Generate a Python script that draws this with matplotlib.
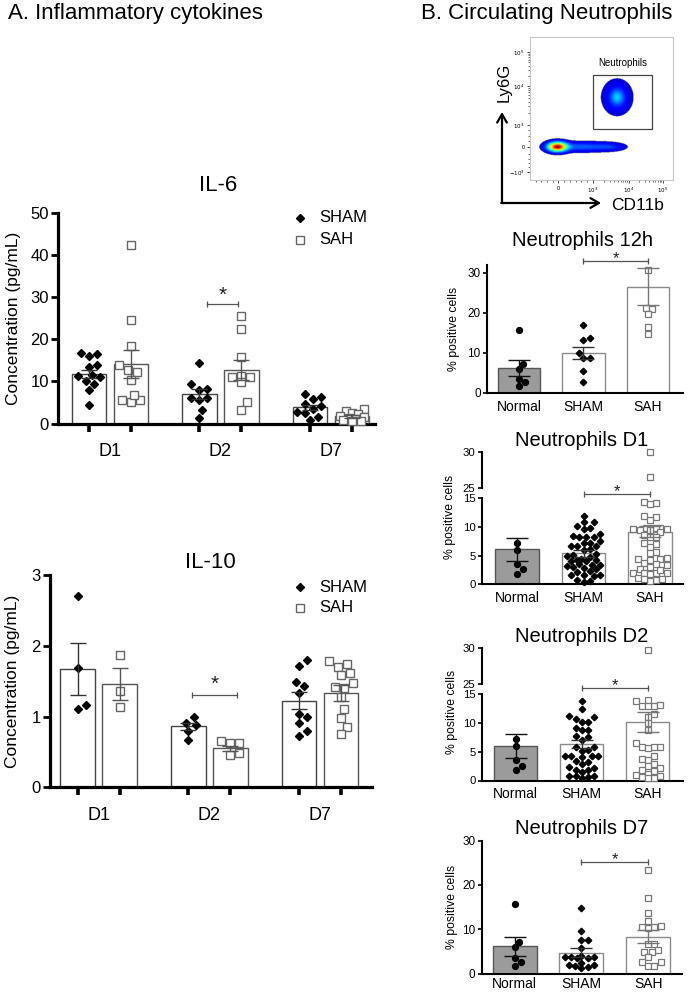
import numpy as np
import matplotlib
matplotlib.use("Agg")
import matplotlib.pyplot as plt
from matplotlib.patches import Rectangle
from matplotlib.lines import Line2D

plt.rcParams['font.family'] = ['Liberation Sans', 'DejaVu Sans']

W, H = 693, 992

# ---------------- data: inflammatory cytokines ----------------
days = ['D1', 'D2', 'D7']

il6_sham_d1 = [16.7, 16.0, 16.5, 13.5, 13.8, 11.5, 11.2, 11.0, 9.5, 10.2, 8.0, 4.5]
il6_sah_d1 = [42.4, 24.6, 18.3, 13.8, 12.6, 12.3, 10.3, 5.6, 5.2, 5.6, 6.8]
il6_sham_d2 = [14.3, 9.3, 8.0, 8.1, 6.0, 5.6, 6.0, 3.2, 1.4]
il6_sah_d2 = [25.6, 22.4, 15.9, 11.3, 11.0, 9.8, 11.1, 5.1, 3.2]
il6_sham_d7 = [7.0, 6.2, 5.8, 4.6, 4.2, 3.5, 2.5, 2.8, 1.6, 0.8]
il6_sah_d7 = [3.5, 3.0, 2.6, 2.2, 1.8, 1.6, 1.3, 1.0, 0.8, 0.5, 0.6]
il6_mean_sham = [11.8, 7.0, 3.9]
il6_sem_sham = [0.9, 1.1, 0.6]
il6_mean_sah = [14.2, 12.7, 1.7]
il6_sem_sah = [3.3, 2.4, 0.35]

il10_sham_d1 = [2.71, 1.69, 1.11, 1.16]
il10_sah_d1 = [1.87, 1.36, 1.14]
il10_sham_d2 = [0.99, 0.88, 0.91, 0.80, 0.67]
il10_sah_d2 = [0.62, 0.62, 0.65, 0.48, 0.45]
il10_sham_d7 = [1.80, 1.72, 1.49, 1.43, 1.33, 0.99, 1.03, 0.91, 0.80, 0.72]
il10_sah_d7 = [1.78, 1.74, 1.70, 1.62, 1.58, 1.48, 1.42, 1.40, 1.28, 1.10, 0.98, 0.85, 0.75]
il10_mean_sham = [1.67, 0.86, 1.22]
il10_sem_sham = [0.37, 0.05, 0.12]
il10_mean_sah = [1.46, 0.55, 1.33]
il10_sem_sah = [0.22, 0.04, 0.11]

# ---------------- data: circulating neutrophils ----------------
groups = ['Normal', 'SHAM', 'SAH']
normal_vals = [15.6, 7.2, 6.0, 3.5, 2.6, 1.8]

h12_sham = [16.9, 13.8, 13.3, 10.0, 8.6, 8.6, 5.4, 2.8]
h12_sah = [30.8, 21.1, 20.9, 19.6, 16.5, 14.7]
h12_means = [6.1, 10.0, 26.5]
h12_sems = [2.0, 1.5, 4.6]

d1_sham = [12.0, 10.8, 10.8, 10.2, 9.8, 9.6, 8.8, 8.4, 8.3, 8.2, 8.2, 7.5, 7.2, 7.2,
           6.7, 6.7, 6.7, 6.1, 6.0, 5.3, 5.2, 5.0, 4.8, 4.4, 4.3, 4.2, 4.1, 4.1, 3.5,
           3.4, 3.4, 3.2, 3.1, 2.8, 2.6, 2.4, 2.2, 1.7, 1.6, 1.5, 1.6, 0.8, 0.5, 0.6]
d1_sah = [30.0, 26.5, 14.3, 14.2, 14.0, 12.0, 11.7, 11.3, 9.9, 9.9, 9.8, 9.8, 9.6, 9.6,
          9.5, 9.5, 9.2, 8.6, 8.3, 8.2, 7.2, 7.0, 6.6, 5.7, 5.4, 4.6, 4.4, 4.4, 4.2,
          3.7, 3.5, 3.3, 2.7, 2.0, 1.9, 1.9, 1.9, 1.8, 3.0, 2.5, 1.1, 0.8, 0.6, 0.9, 1.0]
d1_means = [6.1, 5.4, 9.2]
d1_sems = [2.05, 0.6, 1.0]

d2_sham = [13.8, 12.4, 11.2, 11.0, 10.6, 10.2, 10.2, 9.1, 8.8, 8.7, 7.8, 7.6, 7.0, 5.8,
           5.8, 5.3, 5.2, 4.2, 4.2, 4.3, 4.1, 4.2, 3.3, 3.2, 2.9, 2.2, 2.3, 1.5, 1.9,
           1.9, 0.8, 0.7, 0.6, 0.7, 0.5]
d2_sah = [29.7, 14.0, 13.8, 13.0, 13.0, 12.9, 13.1, 11.6, 11.0, 9.9, 8.8, 6.5, 5.8, 5.8,
          5.8, 5.7, 4.3, 3.8, 3.6, 2.8, 2.5, 2.1, 1.8, 1.6, 1.2, 0.9, 0.8, 0.6, 0.5, 0.4]
d2_means = [6.0, 6.3, 10.1]
d2_sems = [2.05, 0.7, 1.7]

d7_sham = [14.9, 9.7, 7.6, 7.6, 5.7, 3.9, 3.8, 3.7, 3.6, 3.8, 3.4, 2.4, 1.9, 1.5, 1.3, 1.6, 1.9]
d7_sah = [23.4, 17.0, 13.7, 11.8, 10.7, 10.4, 10.3, 10.6, 6.7, 6.6, 5.3, 4.9, 4.9, 3.8,
          2.7, 2.6, 1.6, 1.7]
d7_means = [6.1, 4.7, 8.3]
d7_sems = [2.1, 0.95, 1.5]

# flow cytometry populations (axis units 0-100)
flow_pop_x = [19, 36, 56, 61, 61]
flow_pop_y = [23, 23, 23, 57.5, 57.5]
flow_pop_sx = [4.5, 12, 7, 6.5, 3.0]
flow_pop_sy = [2.2, 2.2, 1.9, 7.5, 3.5]
flow_pop_peak = [1.0, 0.2, 0.12, 0.14, 0.2]
flow_xtick_pos = [19.6, 44, 69, 93]
flow_xtick_lab = ['0', r'$10^3$', r'$10^4$', r'$10^5$']
flow_ytick_pos = [5.6, 23, 38.5, 65.7, 89.5]
flow_ytick_lab = [r'$-10^3$', '0', r'$10^3$', r'$10^4$', r'$10^5$']

# ---------------- helpers ----------------
fig = plt.figure(figsize=(W / 100, H / 100), dpi=100)


def add_ax(l, t, r, b):
    a = fig.add_axes([l / W, 1 - b / H, (r - l) / W, (b - t) / H])
    a.patch.set_visible(False)
    return a


def ftext(x, y, s, **kw):
    return fig.text(x / W, 1 - y / H, s, **kw)


def fmark(x, y, **kw):
    fig.add_artist(Line2D([x / W], [1 - y / H], transform=fig.transFigure, ls='none', **kw))


def swarm(values, ax, d, halfwidth):
    vals = np.asarray(values, float)
    p0 = ax.transData.transform((0, 0))
    p1 = ax.transData.transform((1, 0))
    xscale = p1[0] - p0[0]
    lim = halfwidth * xscale
    ys = np.array([ax.transData.transform((0, v))[1] for v in vals])
    order = np.argsort(ys)
    placed = []
    offs = np.zeros(len(vals))
    step = d / 3.0
    cands = [0.0]
    k = 1
    while k * step <= lim:
        cands += [k * step, -k * step]
        k += 1
    for i in order:
        y = ys[i]
        best, bestd = None, -1
        for c in cands:
            md = min([np.hypot(c - px, y - py) for px, py in placed] + [1e9])
            if md >= d:
                best = c
                break
            if md > bestd + 0.5:
                best, bestd = c, md
        placed.append((best, y))
        offs[i] = best / xscale
    return offs


def sig(ax, x1, x2, y, dy, size, color='#555'):
    ax.plot([x1, x2], [y, y], color=color, lw=0.9, clip_on=False, zorder=6)
    ax.plot([x1, x2], [y, y], ls='none', marker='|', ms=4, mew=0.9, color=color,
            clip_on=False, zorder=6)
    ax.annotate('*', xy=((x1 + x2) / 2, y), xytext=(0, dy), textcoords='offset points',
                ha='center', va='baseline', fontsize=size, color='#222',
                annotation_clip=False)


# ---------------- panel A: cytokines ----------------
def cyto_panel(ax, sham_sets, sah_sets, m_sham, s_sham, m_sah, s_sah, ylim, yticks,
               xlim, off=0.19, bw=0.315):
    ax.set_xlim(*xlim)
    ax.set_ylim(*ylim)
    ax.set_autoscale_on(False)
    for i in range(3):
        xa, xb = i - off, i + off
        ax.bar(xa, m_sham[i], bw, color='white', edgecolor='#444', lw=1.0, zorder=1)
        ax.bar(xb, m_sah[i], bw, color='white', edgecolor='#555', lw=1.0, zorder=1)
        o = swarm(sham_sets[i], ax, 8.0, bw * 0.40)
        ax.plot(xa + o, sham_sets[i], ls='none', marker='D', ms=4.4, color='black',
                zorder=3, clip_on=False)
        o = swarm(sah_sets[i], ax, 9.0, bw * 0.38)
        ax.plot(xb + o, sah_sets[i], ls='none', marker='s', ms=5.4, mfc='white',
                mec='#666', mew=1.0, zorder=3, clip_on=False)
        ax.errorbar(xa, m_sham[i], yerr=s_sham[i], color='#333', capsize=6, lw=1.0,
                    capthick=1.0, zorder=4)
        ax.errorbar(xb, m_sah[i], yerr=s_sah[i], color='#555', capsize=6, lw=1.0,
                    capthick=1.0, zorder=4)
    for s in ['top', 'right']:
        ax.spines[s].set_visible(False)
    for s in ['left', 'bottom']:
        ax.spines[s].set_linewidth(2.3)
        ax.spines[s].set_color('black')
    ax.set_yticks(yticks)
    ax.tick_params(axis='y', length=5, width=2.0, labelsize=12, pad=1.5)
    pos = []
    for i in range(3):
        pos += [i - off, i + off]
    ax.set_xticks(pos)
    ax.set_xticklabels([''] * 6)
    ax.tick_params(axis='x', which='major', length=6, width=2.6)
    ax.set_xticks([0, 1, 2], minor=True)
    ax.set_xticklabels(days, minor=True)
    ax.tick_params(axis='x', which='minor', length=0, labelsize=13, pad=14)


ax6 = add_ax(58, 213, 375, 423.5)
cyto_panel(ax6, [il6_sham_d1, il6_sham_d2, il6_sham_d7],
           [il6_sah_d1, il6_sah_d2, il6_sah_d7],
           il6_mean_sham, il6_sem_sham, il6_mean_sah, il6_sem_sah,
           (0, 50), [0, 10, 20, 30, 40, 50], (-0.47, 2.398))
ax6.set_ylabel('Concentration (pg/mL)', fontsize=12.5)
ax6.yaxis.set_label_coords(-0.118, 0.5)
sig(ax6, 0.878, 1.158, 28.5, 1.8, 15)

ax10 = add_ax(50, 575, 372, 787.3)
cyto_panel(ax10, [il10_sham_d1, il10_sham_d2, il10_sham_d7],
           [il10_sah_d1, il10_sah_d2, il10_sah_d7],
           il10_mean_sham, il10_sem_sham, il10_mean_sah, il10_sem_sah,
           (0, 3), [0, 1, 2, 3], (-0.44, 2.47))
ax10.set_ylabel('Concentration (pg/mL)', fontsize=12.5)
ax10.yaxis.set_label_coords(-0.092, 0.5)
sig(ax10, 0.843, 1.25, 1.30, 3.6, 15)

ftext(8, 19, 'A. Inflammatory cytokines', fontsize=16, ha='left', va='baseline')
ftext(218, 190.7, 'IL-6', fontsize=16, ha='center', va='baseline')
ftext(210, 568.3, 'IL-10', fontsize=16, ha='center', va='baseline')

# legends
for (ly1, ly2) in [(218, 240), (587, 608)]:
    fmark(300, ly1, marker='D', ms=4.4, color='black')
    fmark(300, ly2, marker='s', ms=5.4, mfc='white', mec='#666', mew=1.0)
    ftext(319, ly1, 'SHAM', fontsize=12, ha='left', va='center')
    ftext(319, ly2, 'SAH', fontsize=12, ha='left', va='center')

# ---------------- panel B: neutrophils ----------------
ftext(421, 19, 'B. Circulating Neutrophils', fontsize=16, ha='left', va='baseline')

# flow cytometry dot plot
axf = add_ax(530, 37, 673, 180)
gx, gy = np.meshgrid(np.linspace(0, 100, 400), np.linspace(0, 100, 400))
dens = np.zeros_like(gx)
for px, py, sx, sy, pk in zip(flow_pop_x, flow_pop_y, flow_pop_sx, flow_pop_sy, flow_pop_peak):
    dens += pk * np.exp(-0.5 * ((gx - px) / sx) ** 2 - 0.5 * ((gy - py) / sy) ** 2)
dens = np.ma.masked_less(dens, 0.03)
axf.imshow(dens, extent=(0, 100, 0, 100), origin='lower', cmap='jet', vmin=-0.05, vmax=1.1,
           interpolation='bilinear', aspect='auto')
axf.set_xlim(0, 100)
axf.set_ylim(0, 100)
axf.add_patch(Rectangle((44, 35.7), 41.3, 37.7, fill=False, edgecolor='#444', lw=0.9))
axf.text(65, 81.8, 'Neutrophils', fontsize=7, ha='center', va='center')
for s in axf.spines.values():
    s.set_color('#c8c8c8')
    s.set_linewidth(0.8)
axf.set_xticks(flow_xtick_pos)
axf.set_xticklabels(flow_xtick_lab)
axf.set_yticks(flow_ytick_pos)
axf.set_yticklabels(flow_ytick_lab)
minor_x, minor_y = [], []
for a, b in [(44, 69), (69, 93)]:
    minor_x += [a + (b - a) * np.log10(k) for k in range(2, 10)]
for a, b in [(38.5, 65.7), (65.7, 89.5)]:
    minor_y += [a + (b - a) * np.log10(k) for k in range(2, 10)]
minor_x += [4, 8, 12, 16, 24, 28, 32, 36, 40]
minor_y += [9, 12, 15, 18, 27, 31, 35]
axf.set_xticks(minor_x, minor=True)
axf.set_yticks(minor_y, minor=True)
axf.tick_params(which='major', length=2.5, width=0.6, labelsize=4, pad=1.5, color='#333')
axf.tick_params(which='minor', length=1.3, width=0.5, color='#333')

axf.annotate('', xy=(502, H - 112), xycoords='figure pixels', xytext=(502, H - 203),
             textcoords='figure pixels',
             arrowprops=dict(arrowstyle='->,head_length=0.6,head_width=0.35', lw=1.6,
                             color='black', shrinkA=0, shrinkB=0))
axf.annotate('', xy=(601, H - 203), xycoords='figure pixels', xytext=(501.2, H - 203),
             textcoords='figure pixels',
             arrowprops=dict(arrowstyle='->,head_length=0.6,head_width=0.35', lw=1.6,
                             color='black', shrinkA=0, shrinkB=0))
ftext(504, 82, 'Ly6G', fontsize=12, rotation=90, ha='center', va='center')
ftext(638, 205, 'CD11b', fontsize=12.5, ha='center', va='center')

bar_face = ['#9b9b9b', 'white', 'white']
bar_edge = ['#555555', '#8a8a8a', '#8a8a8a']
err_col = ['#111111', '#333333', '#777777']
mk = [dict(marker='o', ms=4.2, mfc='black', mec='black'),
      dict(marker='D', ms=3.3, mfc='black', mec='black'),
      dict(marker='s', ms=4.0, mfc='white', mec='#777777', mew=0.9)]


def neut_style(ax, bottom=True, xpad=5):
    for s in ['top', 'right']:
        ax.spines[s].set_visible(False)
    ax.spines['left'].set_linewidth(1.5)
    ax.tick_params(axis='y', length=3, width=1.2, labelsize=8.5, pad=1.5)
    if bottom:
        ax.spines['bottom'].set_linewidth(1.5)
        ax.set_xticks([0, 1, 2])
        ax.set_xticklabels(groups)
        ax.tick_params(axis='x', length=0, labelsize=10, pad=xpad)
    else:
        ax.spines['bottom'].set_visible(False)
        ax.set_xticks([])


def neut_points(ax, sets, lo, hi, bw):
    for i, vals in enumerate(sets):
        v = np.array([x for x in vals if lo <= x <= hi])
        if len(v) == 0:
            continue
        o = swarm(v, ax, 6.2, bw * 0.42)
        ax.plot(i + o, v, ls='none', zorder=3, clip_on=False, **mk[i])


def neut_bars(ax, means, sems, bw):
    for i in range(3):
        ax.bar(i, means[i], bw, color=bar_face[i], edgecolor=bar_edge[i], lw=1.0, zorder=1)
        ax.errorbar(i, means[i], yerr=sems[i], color=err_col[i], capsize=8, lw=1.0,
                    capthick=1.0, zorder=4)


def neut_simple(box, xlim, sets, means, sems, ylim, yticks, title_xy, title, sig_y, sig_dy,
                label_x, xpad=5):
    ax = add_ax(*box)
    ax.set_xlim(*xlim)
    ax.set_ylim(*ylim)
    ax.set_autoscale_on(False)
    neut_bars(ax, means, sems, 0.66)
    neut_points(ax, sets, -1, 100, 0.66)
    neut_style(ax, xpad=xpad)
    ax.set_yticks(yticks)
    ax.set_ylabel('% positive cells', fontsize=8.8)
    ax.yaxis.set_label_coords(label_x, 0.5)
    sig(ax, 1, 2, sig_y, sig_dy, 12)
    ftext(title_xy[0], title_xy[1], title, fontsize=14.5, ha='center', va='baseline')
    return ax


def neut_broken(box_top, box_bot, xlim, sets, means, sems, title_xy, title, sig_y,
                label_xy):
    axb = add_ax(*box_bot)
    axt = add_ax(*box_top)
    for a, yl in [(axb, (0, 15)), (axt, (25, 30))]:
        a.set_xlim(*xlim)
        a.set_ylim(*yl)
        a.set_autoscale_on(False)
    neut_bars(axb, means, sems, 0.65)
    neut_points(axb, sets, -1, 15.0, 0.65)
    neut_points(axt, sets, 24.5, 31, 0.65)
    neut_style(axb)
    neut_style(axt, bottom=False)
    axb.set_yticks([0, 5, 10, 15])
    axt.set_yticks([25, 30])
    axb.tick_params(axis='y', labelsize=8.2)
    axt.tick_params(axis='y', labelsize=8.2)
    sig(axb, 1, 2, sig_y, -1.5, 12)
    ftext(title_xy[0], title_xy[1], title, fontsize=14.5, ha='center', va='baseline')
    ftext(label_xy[0], label_xy[1], '% positive cells', fontsize=8.8, rotation=90,
          ha='center', va='center')


neut_simple((487, 264.7, 683, 392.7), (-0.496, 2.543),
            [normal_vals, h12_sham, h12_sah], h12_means, h12_sems,
            (0, 32), [0, 10, 20, 30], (582, 245.7), 'Neutrophils 12h', 32.9, -1.5, -0.138)

neut_broken((481.7, 451.7, 683, 488.3), (481.7, 498.3, 683, 584.4), (-0.531, 2.496),
            [normal_vals, d1_sham, d1_sah], d1_means, d1_sems,
            (582, 445.7), 'Neutrophils D1', 15.7, (450, 517))

neut_broken((481.7, 648.3, 683, 684.3), (481.7, 694, 683, 780.5), (-0.512, 2.529),
            [normal_vals, d2_sham, d2_sah], d2_means, d2_sems,
            (582, 641.7), 'Neutrophils D2', 16.1, (452, 712))

neut_simple((481.7, 840.7, 681.7, 973.5), (-0.497, 2.504),
            [normal_vals, d7_sham, d7_sah], d7_means, d7_sems,
            (0, 30), [0, 10, 20, 30], (582, 834), 'Neutrophils D7', 25.1, -1.5, -0.118,
            xpad=2.5)

fig.savefig('out.png', dpi=100)
